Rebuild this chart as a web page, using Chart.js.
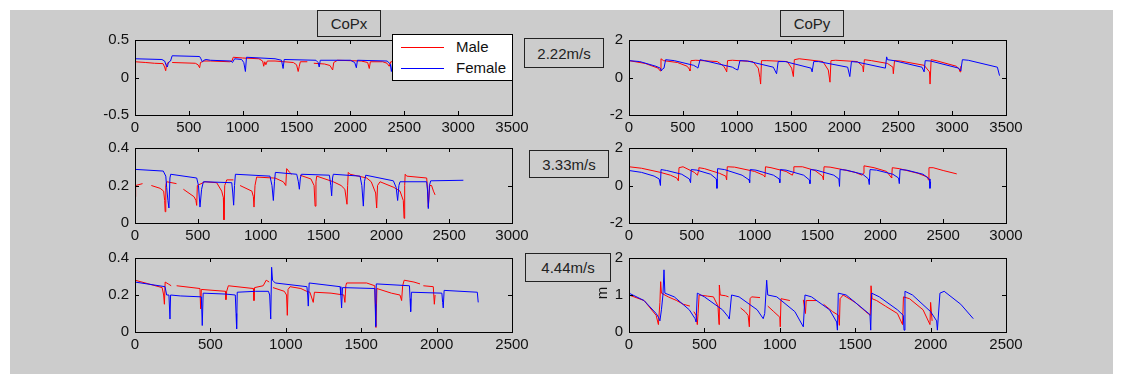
<!DOCTYPE html>
<html>
<head>
<meta charset="utf-8">
<script src="https://cdn.jsdelivr.net/npm/chart.js@4.4.1/dist/chart.umd.min.js"></script>
<style>
  html, body { margin:0; padding:0; background:#fff; width:1127px; height:387px; overflow:hidden; }
  body { position:relative; font-family:"Liberation Sans", Arial, sans-serif; }
  #fig { position:absolute; left:10px; top:10px; width:1103px; height:364px; background:#cccccc; }
  canvas { position:absolute; }
  .box { position:absolute; box-sizing:border-box; border:1px solid #222; background:#cccccc;
         display:flex; align-items:center; justify-content:center; font-size:15px; color:#222; z-index:5; }
  #legend { position:absolute; left:392px; top:34px; width:121px; height:47px; box-sizing:border-box;
            border:1px solid #000; background:#fff; z-index:6; font-size:15px; color:#111; }
  .lgline { position:absolute; left:8px; width:43px; height:1px; }
  .lgtext { position:absolute; left:63px; line-height:16px; }
  #ylab { position:absolute; left:594px; top:284px; width:16px; height:18px; font-size:15px; color:#111;
          transform:rotate(-90deg); text-align:center; line-height:18px; z-index:5; }
</style>
</head>
<body>
<div id="fig"></div>
<canvas id="cA"></canvas><canvas id="cB"></canvas>
<canvas id="cC"></canvas><canvas id="cD"></canvas>
<canvas id="cE"></canvas><canvas id="cF"></canvas>

<div class="box" style="left:317px;top:10px;width:64px;height:27px;" id="t1"></div>
<div class="box" style="left:780px;top:10px;width:64px;height:27px;" id="t2"></div>
<div class="box" style="left:524px;top:38px;width:80px;height:30px;" id="s1"></div>
<div class="box" style="left:529px;top:150px;width:80px;height:28px;" id="s2"></div>
<div class="box" style="left:525px;top:253px;width:86px;height:29px;" id="s3"></div>
<div id="legend">
  <div class="lgline" style="top:12px;background:#ff0000;"></div>
  <div class="lgtext" style="top:4px;" id="lg1"></div>
  <div class="lgline" style="top:33px;background:#0000ff;"></div>
  <div class="lgtext" style="top:25px;" id="lg2"></div>
</div>
<div id="ylab">m</div>

<script>
// ---------- labels ----------
const panelTitles = ['CoPx', 'CoPy'];
const speedLabels = ['2.22m/s', '3.33m/s', '4.44m/s'];
const seriesNames = ['Male', 'Female'];
const yAxisLabel = 'm';

// ---------- data: [x, y] pairs (null = gap) ----------
// CoPx, 2.22 m/s
const copx222Male = [[0,0.21],[100,0.2],[180,0.19],[260,0.185],[275,0.14],[285,0.09],[292,0.16],[300,0.19],[320,0.21],[330,null],[345,0.2],[560,0.19],[585,0.17],[600,0.13],[608,0.2],[640,0.22],[700,0.22],[880,0.21],[900,0.22],[912,0.27],[1000,0.26],[1150,0.25],[1185,0.22],[1195,0.15],[1205,0.21],[1215,0.17],[1228,0.22],[1300,0.22],[1470,0.2],[1500,0.17],[1515,0.08],[1525,0.15],[1535,0.21],[1600,0.21],[1650,null],[1660,0.19],[1760,0.18],[1810,0.16],[1835,0.1],[1845,0.2],[1880,0.23],[2100,0.22],[2160,0.2],[2175,0.12],[2185,0.21],[2300,0.21],[2340,0.19],[2360,0.15],[2375,0.21],[2500,0.21],[2700,0.2],[2790,0.12],[2800,0.22],[3050,0.2],[3070,0.12],[3080,0.18]];
const copx222Female = [[0,0.25],[250,0.24],[275,0.22],[290,0.16],[300,0.14],[310,0.2],[330,0.22],[345,0.29],[600,0.28],[612,0.25],[625,0.21],[640,0.23],[660,0.24],[700,0.23],[890,0.22],[905,0.2],[925,0.25],[990,0.24],[1010,0.2],[1025,0.08],[1035,0.27],[1300,0.25],[1360,0.23],[1375,0.12],[1385,0.24],[1680,0.23],[1700,0.2],[1710,0.14],[1720,0.23],[2000,0.23],[2040,0.2],[2055,0.13],[2065,0.23],[2340,0.22],[2370,0.18],[2380,0.08],[2395,0.22],[2700,0.22],[2730,0.12],[2745,0.23],[3050,0.2],[3075,0.1],[3090,0.22],[3420,0.2],[3440,0.05]];
// CoPy, 2.22 m/s
const copy222Male = [[0,0.9],[150,0.75],[270,0.5],[290,0.35],[297,1.0],[320,0.9],[450,0.8],[540,0.6],[560,0.45],[566,0.35],[575,0.9],[620,0.92],[820,0.85],[880,0.6],[900,0.4],[907,0.3],[915,0.9],[960,0.92],[1150,0.85],[1200,0.5],[1215,0.0],[1222,-0.35],[1230,0.9],[1280,0.9],[1470,0.85],[1510,0.5],[1526,0.05],[1535,0.95],[1580,1.0],[1800,0.85],[1850,0.4],[1866,-0.25],[1875,0.9],[1920,0.92],[2120,0.85],[2170,0.6],[2176,0.3],[2185,0.95],[2250,0.9],[2400,0.75],[2450,0.55],[2454,0.2],[2465,0.9],[2520,0.88],[2740,0.65],[2790,0.3],[2795,-0.35],[2805,0.95],[2850,0.9],[3040,0.6],[3065,0.45],[3073,0.3],[3080,0.6]];
const copy222Female = [[0,0.9],[100,0.85],[250,0.6],[290,0.5],[300,0.35],[310,0.45],[325,0.5],[340,0.95],[420,0.9],[600,0.65],[630,0.55],[640,0.5],[660,0.95],[700,0.9],[960,0.55],[990,0.45],[1010,0.4],[1030,0.9],[1100,0.88],[1340,0.55],[1370,0.2],[1385,0.85],[1450,0.85],[1690,0.5],[1700,0.3],[1715,0.85],[1760,0.85],[2030,0.55],[2050,0.05],[2065,0.85],[2120,0.82],[2380,0.5],[2392,1.1],[2400,0.95],[2460,0.9],[2720,0.55],[2740,0.3],[2750,0.9],[2800,0.88],[3060,0.5],[3080,0.35],[3095,0.95],[3150,0.92],[3420,0.55],[3440,0.1]];
// CoPx, 3.33 m/s
const copx333Male = [[0,0.14],[5,0.2],[60,0.21],[70,null],[130,0.2],[200,0.185],[228,0.17],[236,0.12],[240,0.06],[245,0.2],[252,0.22],[330,0.21],[345,null],[385,0.18],[470,0.14],[485,0.12],[491,0.094],[496,0.2],[557,0.22],[650,0.215],[690,0.17],[703,0.136],[708,0.017],[714,0.2],[730,0.23],[783,0.23],[800,null],[836,0.2],[930,0.17],[942,0.14],[947,0.085],[955,0.2],[968,0.245],[1101,0.24],[1114,0.24],[1180,0.22],[1200,0.2],[1207,0.29],[1230,0.27],[1247,0.26],[1260,null],[1313,0.255],[1400,0.235],[1425,0.2],[1433,0.09],[1440,0.22],[1446,0.25],[1578,0.22],[1640,0.2],[1670,0.18],[1687,0.1],[1692,0.2],[1697,0.27],[1711,0.26],[1844,0.24],[1880,0.22],[1915,0.16],[1923,0.08],[1930,0.2],[1950,0.22],[2060,0.19],[2109,0.17],[2135,0.12],[2141,0.025],[2146,0.2],[2150,0.26],[2162,0.25],[2321,0.24],[2328,0.18],[2334,0.085],[2345,0.2],[2360,0.2],[2375,0.17],[2388,0.15]];
const copx333Female = [[0,0.286],[225,0.277],[245,0.25],[252,0.19],[262,0.12],[270,0.08],[278,0.24],[284,0.26],[491,0.24],[505,0.2],[517,0.085],[530,0.18],[544,0.22],[770,0.215],[778,0.16],[785,0.095],[792,0.2],[799,0.26],[1074,0.25],[1090,0.2],[1101,0.12],[1110,0.22],[1117,0.27],[1287,0.26],[1300,0.22],[1308,0.18],[1316,0.24],[1324,0.26],[1547,0.255],[1558,0.2],[1565,0.145],[1572,0.24],[1578,0.26],[1791,0.25],[1805,0.2],[1817,0.09],[1826,0.22],[1836,0.255],[2056,0.225],[2078,0.19],[2090,0.12],[2100,0.2],[2109,0.22],[2321,0.22],[2328,0.17],[2334,0.077],[2343,0.2],[2353,0.225],[2613,0.228]];
// CoPy, 3.33 m/s
const copy333Male = [[0,1.0],[100,0.92],[250,0.7],[330,0.55],[380,0.4],[393,0.25],[398,0.95],[430,1.0],[520,0.7],[545,0.55],[552,0.75],[556,0.95],[600,0.9],[720,0.65],[770,0.5],[777,0.3],[782,1.0],[840,0.98],[1000,0.75],[1070,0.55],[1082,0.45],[1086,1.0],[1130,0.95],[1250,0.75],[1300,0.55],[1308,0.7],[1312,1.0],[1380,1.0],[1480,0.8],[1540,0.5],[1547,0.3],[1552,1.0],[1600,0.98],[1700,0.85],[1800,0.7],[1855,0.55],[1865,0.65],[1870,1.05],[1950,0.95],[2050,0.75],[2085,0.45],[2090,0.4],[2095,0.95],[2150,0.9],[2300,0.65],[2375,0.45],[2382,0.3],[2387,0.95],[2420,0.95],[2500,0.8],[2608,0.62]];
const copy333Female = [[0,0.8],[100,0.7],[200,0.5],[240,0.35],[250,0.0],[255,0.85],[300,0.8],[420,0.6],[480,0.35],[490,0.15],[495,0.85],[540,0.82],[650,0.6],[695,0.35],[700,-0.15],[705,0.9],[760,0.85],[900,0.55],[955,0.3],[960,0.15],[965,0.85],[1010,0.82],[1150,0.55],[1195,0.35],[1200,0.15],[1205,0.85],[1250,0.82],[1390,0.55],[1435,0.3],[1440,0.1],[1445,0.85],[1490,0.82],[1630,0.55],[1670,0.35],[1675,-0.05],[1680,0.85],[1730,0.82],[1860,0.6],[1905,0.35],[1912,0.05],[1918,0.85],[1970,0.82],[2100,0.6],[2145,0.4],[2151,0.1],[2157,0.85],[2210,0.82],[2340,0.6],[2390,0.35],[2395,-0.15],[2400,0.2]];
// CoPx, 4.44 m/s
const copx444Male = [[0,0.28],[180,0.24],[190,0.2],[195,0.15],[200,0.27],[220,0.26],[240,0.25],[250,null],[276,0.25],[431,0.235],[435,0.125],[440,0.23],[600,0.22],[603,0.175],[608,0.22],[619,0.25],[785,0.235],[789,0.17],[793,0.24],[850,0.25],[870,0.28],[890,0.27],[900,null],[915,0.24],[990,0.22],[1005,0.2],[1010,0.09],[1015,0.23],[1028,0.245],[1100,0.235],[1138,0.22],[1160,0.215],[1182,0.16],[1190,0.215],[1300,0.21],[1385,0.2],[1392,0.16],[1398,0.25],[1403,0.265],[1536,0.265],[1590,0.25],[1598,0.024],[1604,0.235],[1700,0.21],[1757,0.2],[1768,0.17],[1775,0.25],[1785,0.28],[1850,0.27],[1890,0.26],[1900,null],[1912,0.25],[1978,0.245],[1985,0.15],[1990,0.2]];
const copx444Female = [[0,0.27],[199,0.245],[210,0.2],[225,0.2],[232,0.07],[236,0.2],[300,0.195],[440,0.19],[446,0.035],[452,0.21],[600,0.205],[665,0.2],[670,0.1],[674,0.017],[678,0.215],[800,0.22],[885,0.22],[893,0.2],[900,0.07],[906,0.35],[912,0.28],[930,0.265],[1140,0.245],[1145,0.2],[1149,0.14],[1155,0.265],[1360,0.245],[1365,0.2],[1370,0.13],[1376,0.24],[1590,0.235],[1593,0.15],[1596,0.03],[1600,0.26],[1820,0.25],[1824,0.18],[1828,0.11],[1833,0.215],[2035,0.21],[2040,0.16],[2044,0.13],[2050,0.225],[2270,0.215],[2276,0.16]];
// CoPy, 4.44 m/s
const copy444Male = [[0,1.0],[100,0.85],[180,0.45],[195,0.2],[205,0.8],[210,1.36],[215,1.05],[260,0.95],[316,0.85],[360,0.75],[404,0.7],[410,null],[430,0.55],[445,0.45],[453,0.2],[458,0.5],[465,1.0],[520,0.97],[560,0.95],[590,0.7],[597,0.2],[599,1.27],[605,1.0],[640,0.98],[660,0.95],[680,null],[740,0.65],[770,0.55],[790,0.45],[798,0.14],[803,0.9],[813,0.95],[869,0.93],[880,null],[920,0.7],[960,0.55],[1000,0.4],[1003,0.14],[1008,0.9],[1067,0.85],[1080,null],[1156,0.87],[1170,0.5],[1175,0.85],[1244,0.85],[1260,null],[1290,0.75],[1350,0.55],[1390,0.45],[1395,0.18],[1400,0.9],[1420,1.0],[1500,0.8],[1570,0.55],[1600,0.45],[1605,1.25],[1612,0.9],[1642,0.85],[1700,0.7],[1780,0.5],[1814,0.2],[1820,0.95],[1860,0.9],[1950,0.6],[1996,0.2],[2000,0.8],[2010,0.3]];
const copy444Female = [[0,1.05],[100,0.85],[180,0.5],[195,0.4],[205,0.3],[215,0.6],[225,1.0],[232,1.68],[238,1.05],[300,0.95],[400,0.6],[438,0.36],[445,0.27],[453,1.05],[500,0.95],[620,0.6],[658,0.41],[665,0.35],[680,1.0],[730,0.95],[850,0.6],[890,0.36],[900,0.5],[913,1.4],[920,1.0],[980,0.95],[1100,0.55],[1156,0.14],[1167,1.0],[1210,0.95],[1330,0.6],[1377,0.27],[1382,0.05],[1388,1.05],[1440,1.0],[1560,0.6],[1598,0.47],[1603,0.05],[1609,1.05],[1660,0.95],[1780,0.6],[1819,0.45],[1824,0.05],[1830,1.1],[1880,1.0],[2000,0.55],[2040,0.3],[2045,0.05],[2062,1.05],[2090,1.1],[2200,0.75],[2283,0.36]];

// ---------- layout / drawing ----------
const FONT = { family: '"Liberation Sans", Arial, sans-serif', size: 15 };
const TXT = '#111';
const PADL = 60, PADT = 12, PADR = 30, XH = 30;

document.getElementById('t1').textContent = panelTitles[0];
document.getElementById('t2').textContent = panelTitles[1];
document.getElementById('s1').textContent = speedLabels[0];
document.getElementById('s2').textContent = speedLabels[1];
document.getElementById('s3').textContent = speedLabels[2];
document.getElementById('lg1').textContent = seriesNames[0];
document.getElementById('lg2').textContent = seriesNames[1];
document.getElementById('ylab').textContent = yAxisLabel;

const framePlugin = {
  id: 'frame',
  afterDraw(chart) {
    const { ctx, chartArea: a, scales: { x, y } } = chart;
    const L = Math.round(a.left), R = Math.round(a.right), T = Math.round(a.top), B = Math.round(a.bottom);
    ctx.save();
    ctx.strokeStyle = '#000'; ctx.lineWidth = 1;
    ctx.strokeRect(L + 0.5, T + 0.5, R - L, B - T);
    ctx.beginPath();
    const TL = 4;
    x.ticks.forEach(t => {
      const p = Math.round(x.getPixelForValue(t.value)) + 0.5;
      ctx.moveTo(p, B); ctx.lineTo(p, B - TL);
      ctx.moveTo(p, T); ctx.lineTo(p, T + TL);
    });
    y.ticks.forEach(t => {
      const p = Math.round(y.getPixelForValue(t.value)) + 0.5;
      ctx.moveTo(L, p); ctx.lineTo(L + TL, p);
      ctx.moveTo(R, p); ctx.lineTo(R - TL, p);
    });
    ctx.stroke();
    ctx.restore();
  }
};

const toXY = arr => arr.map(([x, y]) => ({ x, y }));

function makeChart(id, box, xMax, yMin, yMax, yStep, male, female) {
  const cv = document.getElementById(id);
  const W = box.w + PADL + PADR, H = box.h + PADT + XH;
  cv.width = W; cv.height = H;
  cv.style.width = W + 'px'; cv.style.height = H + 'px';
  cv.style.left = (box.left - PADL) + 'px';
  cv.style.top = (box.top - PADT) + 'px';
  new Chart(cv, {
    type: 'scatter',
    data: {
      datasets: [
        { label: seriesNames[0], data: toXY(male), borderColor: '#ff0000', backgroundColor: '#ff0000',
          borderWidth: 1, pointRadius: 0, showLine: true, spanGaps: false, order: 2 },
        { label: seriesNames[1], data: toXY(female), borderColor: '#0000ff', backgroundColor: '#0000ff',
          borderWidth: 1, pointRadius: 0, showLine: true, spanGaps: false, order: 1 }
      ]
    },
    options: {
      responsive: false, animation: false, devicePixelRatio: 1,
      events: [],
      layout: { padding: { top: PADT, right: PADR, left: 0, bottom: 0 } },
      plugins: { legend: { display: false }, tooltip: { enabled: false } },
      scales: {
        x: {
          type: 'linear', min: 0, max: xMax,
          ticks: { stepSize: 500, callback: v => String(v), font: FONT, color: TXT, padding: 4,
                   maxRotation: 0, autoSkip: false },
          grid: { display: false, drawTicks: false }, border: { display: false },
          afterFit: s => { s.height = XH; }
        },
        y: {
          type: 'linear', min: yMin, max: yMax,
          ticks: { stepSize: yStep, callback: v => String(Math.round(v * 100) / 100), font: FONT, color: TXT,
                   padding: 6, autoSkip: false },
          grid: { display: false, drawTicks: false }, border: { display: false },
          afterFit: s => { s.width = PADL; }
        }
      }
    },
    plugins: [framePlugin]
  });
}

makeChart('cA', { left: 135, top: 37, w: 377, h: 78 }, 3500, -0.5, 0.5, 0.5, copx222Male, copx222Female);
makeChart('cB', { left: 629, top: 37, w: 377, h: 78 }, 3500, -2, 2, 2, copy222Male, copy222Female);
makeChart('cC', { left: 135, top: 145, w: 377, h: 78 }, 3000, 0, 0.4, 0.2, copx333Male, copx333Female);
makeChart('cD', { left: 629, top: 145, w: 377, h: 78 }, 3000, -2, 2, 2, copy333Male, copy333Female);
makeChart('cE', { left: 135, top: 255, w: 377, h: 77 }, 2500, 0, 0.4, 0.2, copx444Male, copx444Female);
makeChart('cF', { left: 629, top: 255, w: 377, h: 77 }, 2500, 0, 2, 1, copy444Male, copy444Female);
</script>
</body>
</html>
